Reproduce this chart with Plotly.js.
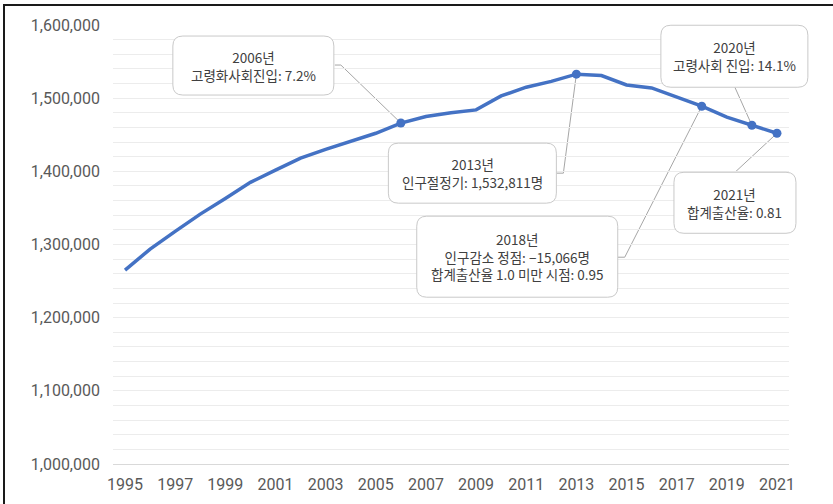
<!DOCTYPE html>
<html>
<head>
<meta charset="utf-8">
<script src="https://cdn.plot.ly/plotly-3.0.1.min.js"></script>
<style>
  html, body { margin: 0; padding: 0; background: #fff; }
  #wrap { position: relative; width: 833px; height: 504px; overflow: hidden; }
  #chart { position: absolute; left: 0; top: 0; width: 833px; height: 504px; }
  .frameTop { position: absolute; left: 3px; top: 4px; width: 830px; height: 2px; background: #1a1a1a; }
  .frameLeft { position: absolute; left: 3px; top: 4px; width: 2px; height: 500px; background: #1a1a1a; }
</style>
</head>
<body>
<div id="wrap">
  <div id="chart"></div>
  <div class="frameTop"></div>
  <div class="frameLeft"></div>
</div>
<script>
// ---- data ----
const years = [1995,1996,1997,1998,1999,2000,2001,2002,2003,2004,2005,2006,2007,2008,2009,2010,2011,2012,2013,2014,2015,2016,2017,2018,2019,2020,2021];
const population = [1265000,1293700,1318000,1341500,1363000,1385000,1401600,1418000,1430000,1441000,1452000,1466000,1475000,1480000,1484000,1503000,1515000,1523000,1532811,1531000,1518000,1514000,1502000,1489000,1474000,1463000,1452000];
const xTickVals = [1995,1997,1999,2001,2003,2005,2007,2009,2011,2013,2015,2017,2019,2021];
const yTickVals = [1000000,1100000,1200000,1300000,1400000,1500000,1600000];
const yTickText = ['1,000,000','1,100,000','1,200,000','1,300,000','1,400,000','1,500,000','1,600,000'];
const noteYears = [2006, 2013, 2018, 2020, 2021];
const noteTexts = [
  '2006년<br>고령화사회진입: 7.2%',
  '2013년<br>인구절정기: 1,532,811명',
  '2018년<br>인구감소 정점: −15,066명<br>합계출산율 1.0 미만 시점: 0.95',
  '2020년<br>고령사회 진입: 14.1%',
  '2021년<br>합계출산율: 0.81'
];

// axis ranges
const xRange = [1994.52, 2021.48];
const yRange = [1000000, 1600000];

// ---- layout helpers (pixel offsets relative to each annotated point, y up) ----
const boxGeom = [
  {box: [-228, -67, 28, 87],    leader: [[-66, 58], [-60, 58], [0, 0]]},
  {box: [-188, -20, -129, -69], leader: [[-20, -99], [-13, -99], [0, 0]]},
  {box: [-285, -84, -191, -110],leader: [[-84, -151], [-77, -151], [0, 0]]},
  {box: [-91, 56, 38, 100],     leader: [[-17, 38], [0, 0]]},
  {box: [-103, 19, -100, -39],  leader: [[-42, -39], [0, 0]]}
];

function roundRect(l, r, b, t, rad) {
  return 'M ' + (l + rad) + ',' + t +
    ' L ' + (r - rad) + ',' + t +
    ' Q ' + r + ',' + t + ' ' + r + ',' + (t - rad) +
    ' L ' + r + ',' + (b + rad) +
    ' Q ' + r + ',' + b + ' ' + (r - rad) + ',' + b +
    ' L ' + (l + rad) + ',' + b +
    ' Q ' + l + ',' + b + ' ' + l + ',' + (b + rad) +
    ' L ' + l + ',' + (t - rad) +
    ' Q ' + l + ',' + t + ' ' + (l + rad) + ',' + t + ' Z';
}

const shapes = [];
const annotations = [];
noteYears.forEach(function (yr, i) {
  const val = population[years.indexOf(yr)];
  const g = boxGeom[i];
  const [l, r, b, t] = g.box;
  // leader line (data-anchored, drawn under the trace)
  shapes.push({
    type: 'path', layer: 'below',
    xref: 'x', yref: 'y', xsizemode: 'pixel', ysizemode: 'pixel',
    xanchor: yr, yanchor: val,
    path: g.leader.map(function (p, k) { return (k === 0 ? 'M ' : ' L ') + p[0] + ',' + p[1]; }).join(''),
    line: {color: '#a6a6a6', width: 1}
  });
  // rounded callout box (paper-anchored so it is not clipped by the plot area)
  shapes.push({
    type: 'path', layer: 'above',
    xref: 'paper', yref: 'paper', xsizemode: 'pixel', ysizemode: 'pixel',
    xanchor: (yr - xRange[0]) / (xRange[1] - xRange[0]),
    yanchor: (val - yRange[0]) / (yRange[1] - yRange[0]),
    path: roundRect(l, r, b, t, 10),
    fillcolor: '#ffffff',
    line: {color: '#c9c9c9', width: 1}
  });
  annotations.push({
    x: yr, y: val, xref: 'x', yref: 'y',
    xshift: (l + r) / 2, yshift: (b + t) / 2,
    xanchor: 'center', yanchor: 'middle',
    showarrow: false, align: 'center',
    text: noteTexts[i],
    font: {family: '"Noto Sans CJK KR", "Noto Sans", sans-serif', size: 13.5, color: '#404040'}
  });
});

const markerX = noteYears;
const markerY = noteYears.map(function (yr) { return population[years.indexOf(yr)]; });

const traces = [
  {
    x: years, y: population, type: 'scatter', mode: 'lines',
    line: {color: '#4472c4', width: 3.5},
    hoverinfo: 'skip'
  },
  {
    x: markerX, y: markerY, type: 'scatter', mode: 'markers',
    marker: {color: '#4472c4', size: 9},
    hoverinfo: 'skip'
  }
];

const tickFont = {family: 'Roboto, "Noto Sans", sans-serif', size: 16, color: '#595959'};

const layout = {
  width: 833, height: 504,
  margin: {l: 113, r: 44, t: 25, b: 40},
  paper_bgcolor: '#ffffff', plot_bgcolor: '#ffffff',
  showlegend: false,
  xaxis: {
    range: xRange,
    tickmode: 'array', tickvals: xTickVals, ticktext: xTickVals.map(String),
    showgrid: false, zeroline: false,
    showline: true, linecolor: '#d9d9d9', linewidth: 1,
    ticks: '', ticklabelstandoff: 6,
    tickfont: tickFont, fixedrange: true
  },
  yaxis: {
    range: yRange,
    tickmode: 'array', tickvals: yTickVals, ticktext: yTickText,
    showgrid: true, gridcolor: '#ececec', gridwidth: 1,
    minor: {tickmode: 'linear', tick0: 1000000, dtick: 20000, showgrid: true, gridcolor: '#ececec', gridwidth: 1},
    zeroline: false, showline: false,
    ticks: '', ticklabelstandoff: 12,
    tickfont: tickFont, fixedrange: true
  },
  shapes: shapes,
  annotations: annotations
};

Plotly.newPlot('chart', traces, layout, {displayModeBar: false, staticPlot: true});
</script>
</body>
</html>
